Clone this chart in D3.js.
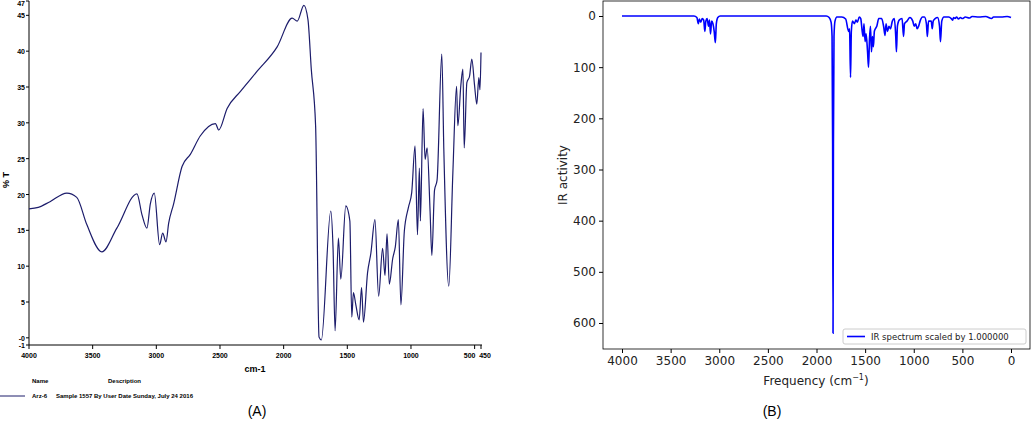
<!DOCTYPE html>
<html><head><meta charset="utf-8">
<script src="https://cdn.jsdelivr.net/npm/d3@7"></script>
<style>body{margin:0;background:#fff}svg{display:block}</style>
</head><body>
<svg width="1033" height="425"></svg>
<script>
// Panel A: measured spectrum [wavenumber, %T]
const specA = [[4000,18.0],[3927,18.2],[3835,19.0],[3703,20.2],[3625,19.6],[3546,15.8],[3428,12.0],[3310,15.3],[3152,20.1],[3113,17.2],[3074,15.3],[3047,18.7],[3016,20.2],[2974,13.0],[2950,14.6],[2924,13.4],[2903,16.0],[2864,18.7],[2798,23.9],[2733,25.6],[2654,28.2],[2536,29.9],[2510,29.0],[2444,32.0],[2339,34.4],[2208,37.2],[2051,40.6],[1933,44.6],[1893,44.2],[1841,46.4],[1809,44.4],[1783,37.5],[1749,29.6],[1722,0.1],[1704,-0.3],[1630,17.7],[1612,12.5],[1596,1.0],[1570,13.9],[1551,8.2],[1512,18.4],[1480,16.3],[1465,2.9],[1452,6.3],[1433,4.6],[1407,2.5],[1388,7.0],[1373,2.2],[1341,9.1],[1315,11.8],[1283,16.5],[1254,5.8],[1223,12.5],[1204,8.7],[1188,14.5],[1170,7.5],[1144,11.0],[1123,12.7],[1099,16.5],[1079,4.6],[1052,14.9],[1020,18.2],[994,20.3],[968,26.8],[949,14.4],[934,23.7],[926,16.3],[905,32.0],[889,24.9],[873,26.5],[850,17.7],[836,11.5],[815,20.6],[795,22.0],[758,39.6],[742,26.3],[703,7.2],[671,23.0],[642,35.1],[632,29.6],[608,35.3],[592,37.5],[582,26.5],[561,35.6],[540,36.5],[522,38.9],[501,35.3],[483,32.6],[467,36.3],[458,34.6],[450,39.8]];
const ticksAX = [4000,3500,3000,2500,2000,1500,1000,500,450];
const ticksAY = [47,45,40,35,30,25,20,15,10,5,0,-1];

// Panel B: computed spectrum [frequency, IR activity]
const specB = [[4000,0],[3260,0],[3230,3],[3215,15],[3205,6],[3190,12],[3175,5],[3160,8],[3148,30],[3138,10],[3125,5],[3110,20],[3100,8],[3090,35],[3078,10],[3065,15],[3052,30],[3040,52],[3030,15],[3015,3],[2990,0],[1900,0],[1870,3],[1850,12],[1840,40],[1834,250],[1830,620],[1826,250],[1820,40],[1810,10],[1790,2],[1740,2],[1700,6],[1670,30],[1660,25],[1650,120],[1642,30],[1630,10],[1610,15],[1595,8],[1580,12],[1560,2],[1545,5],[1530,30],[1520,40],[1512,15],[1500,50],[1490,35],[1475,70],[1465,100],[1455,45],[1445,20],[1435,70],[1425,40],[1415,60],[1405,30],[1395,25],[1380,20],[1360,5],[1330,5],[1310,20],[1295,38],[1285,15],[1270,30],[1255,20],[1240,25],[1220,10],[1200,5],[1185,40],[1178,70],[1168,20],[1150,8],[1120,5],[1105,40],[1095,15],[1070,10],[1040,3],[1010,10],[995,20],[980,15],[965,25],[950,20],[935,10],[910,2],[890,2],[870,15],[860,40],[848,10],[820,10],[810,25],[800,10],[780,5],[755,3],[735,20],[725,50],[712,10],[690,2],[640,2],[610,6],[600,8],[590,3],[575,5],[560,2],[540,6],[520,3],[500,5],[470,2],[430,4],[400,1],[330,2],[260,1],[200,5],[180,2],[100,2],[40,1],[0,3]];
const ticksBX = [4000,3500,3000,2500,2000,1500,1000,500,0];
const ticksBY = [0,100,200,300,400,500,600];

const svg = d3.select("svg");

// ---- Panel A
const xA = d3.scaleLinear().domain([4000,450]).range([29,481]);
const yA = d3.scaleLinear().domain([-1,47]).range([345,1]);
const gA = svg.append("g").style("font-family","Liberation Sans, Arial").style("font-weight","bold");

gA.append("line").attr("x1",29).attr("x2",29).attr("y1",1).attr("y2",345).attr("stroke","#000");
gA.append("line").attr("x1",29).attr("x2",482).attr("y1",345).attr("y2",345).attr("stroke","#000");
gA.selectAll(".tx").data(ticksAX).enter().append("line")
  .attr("x1",d=>xA(d)).attr("x2",d=>xA(d)).attr("y1",345).attr("y2",349).attr("stroke","#000");
gA.selectAll(".lx").data(ticksAX).enter().append("text")
  .attr("x",d=>xA(d)+(d===500?-5:d===450?4:0)).attr("y",358).attr("text-anchor","middle")
  .attr("font-size",7).text(d=>d);
gA.selectAll(".ty").data(ticksAY).enter().append("line")
  .attr("x1",26).attr("x2",29).attr("y1",d=>yA(d)).attr("y2",d=>yA(d)).attr("stroke","#000");
gA.selectAll(".ly").data(ticksAY).enter().append("text")
  .attr("x",25).attr("y",d=>Math.max(yA(d)+3,6)).attr("text-anchor","end")
  .attr("font-size",7).text(d=>d===0?"-0":d);
gA.append("text").attr("transform","translate(9,180) rotate(-90)").attr("text-anchor","middle")
  .attr("font-size",9).text("% T");
gA.append("text").attr("x",255).attr("y",372).attr("text-anchor","middle").attr("font-size",9).text("cm-1");

gA.append("path").datum(specA)
  .attr("d",d3.line().x(d=>xA(d[0])).y(d=>yA(d[1])).curve(d3.curveMonotoneX))
  .attr("fill","none").attr("stroke","#1c1c6b").attr("stroke-width",1.2);

gA.append("text").attr("x",32).attr("y",383).attr("font-size",6).text("Name");
gA.append("text").attr("x",108).attr("y",383).attr("font-size",6).text("Description");
gA.append("line").attr("x1",0).attr("x2",25).attr("y1",396).attr("y2",396).attr("stroke","#1c1c6b");
gA.append("text").attr("x",32).attr("y",398).attr("font-size",6).text("Arz-6");
gA.append("text").attr("x",56).attr("y",398).attr("font-size",6).text("Sample 1557 By User Date Sunday, July 24 2016");

// ---- Panel B
const xB = d3.scaleLinear().domain([4000,0]).range([622,1011]);
const yB = d3.scaleLinear().domain([0,600]).range([16,323]);
const gB = svg.append("g").style("font-family","DejaVu Sans");
gB.append("rect").attr("x",603).attr("y",1).attr("width",427).attr("height",348)
  .attr("fill","none").attr("stroke","#000").attr("stroke-width",0.8);
gB.append("g").attr("transform","translate(0,349)")
  .call(d3.axisBottom(xB).tickValues(ticksBX).tickFormat(d3.format("d")).tickSize(4).tickSizeOuter(0))
  .call(g=>{g.select(".domain").remove();g.selectAll("text").attr("font-size",12).attr("font-family","DejaVu Sans").attr("fill","#222");});
gB.append("g").attr("transform","translate(603,0)")
  .call(d3.axisLeft(yB).tickValues(ticksBY).tickFormat(d3.format("d")).tickSize(4).tickSizeOuter(0))
  .call(g=>{g.select(".domain").remove();g.selectAll("text").attr("font-size",12).attr("font-family","DejaVu Sans").attr("fill","#222");});
gB.append("text").attr("transform","translate(567,175) rotate(-90)").attr("text-anchor","middle")
  .attr("font-size",12).attr("fill","#222").text("IR activity");
const fl = gB.append("text").attr("x",816).attr("y",385).attr("text-anchor","middle").attr("font-size",12).attr("fill","#222");
fl.append("tspan").text("Frequency (cm");
fl.append("tspan").attr("dy",-5).attr("font-size",8).text("\u22121");
fl.append("tspan").attr("dy",5).text(")");

gB.append("path").datum(specB)
  .attr("d",d3.line().x(d=>xB(d[0])).y(d=>yB(d[1])).curve(d3.curveMonotoneX))
  .attr("fill","none").attr("stroke","#0000ff").attr("stroke-width",1.6);

gB.append("rect").attr("x",843).attr("y",329).attr("width",183).attr("height",15).attr("rx",2)
  .attr("fill","#fff").attr("stroke","#ccc");
gB.append("line").attr("x1",847).attr("x2",865).attr("y1",336.5).attr("y2",336.5).attr("stroke","#0000ff").attr("stroke-width",1.6);
gB.append("text").attr("x",871).attr("y",340).attr("font-size",8.5).attr("fill","#222").text("IR spectrum scaled by 1.000000");

// Panel captions
svg.append("text").attr("x",257).attr("y",416).attr("text-anchor","middle").attr("font-family","Liberation Sans").attr("font-size",14).text("(A)");
svg.append("text").attr("x",772).attr("y",416).attr("text-anchor","middle").attr("font-family","Liberation Sans").attr("font-size",14).text("(B)");
</script>
</body></html>
